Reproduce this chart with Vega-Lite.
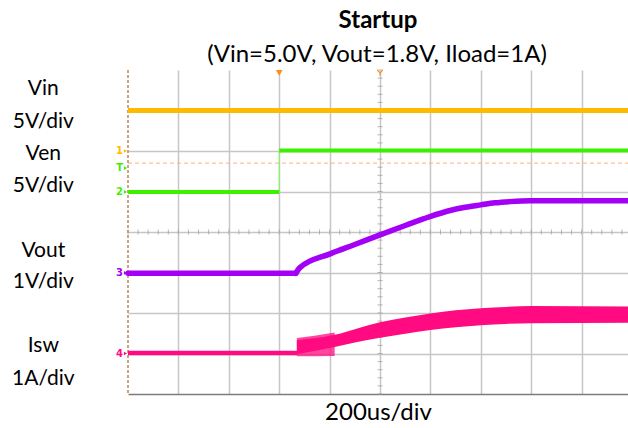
{
  "$schema": "https://vega.github.io/schema/vega-lite/v6.json",
  "width": 500,
  "height": 324,
  "autosize": {"type": "none"},
  "padding": {"left": 128, "top": 70, "right": 0, "bottom": 34},
  "background": "#ffffff",
  "config": {"view": {"stroke": null}, "font": "Lato"},
  "resolve": {"axis": {"x": "independent", "y": "independent"}},
  "datasets": {
    "trig": [{"t": 0, "v": 5.7}, {"t": 9.92, "v": 5.7}],
    "cursor": [{"t": 0}],
    "minor": [
      {"v": 0}, {"v": 0.2}, {"v": 0.4}, {"v": 0.6}, {"v": 0.8}, {"v": 1}, {"v": 1.2}, {"v": 1.4}, {"v": 1.6}, {"v": 1.8},
      {"v": 2}, {"v": 2.2}, {"v": 2.4}, {"v": 2.6}, {"v": 2.8}, {"v": 3}, {"v": 3.2}, {"v": 3.4}, {"v": 3.6}, {"v": 3.8},
      {"v": 4}, {"v": 4.2}, {"v": 4.4}, {"v": 4.6}, {"v": 4.8}, {"v": 5}, {"v": 5.2}, {"v": 5.4}, {"v": 5.6}, {"v": 5.8},
      {"v": 6}, {"v": 6.2}, {"v": 6.4}, {"v": 6.6}, {"v": 6.8}, {"v": 7}, {"v": 7.2}, {"v": 7.4}, {"v": 7.6}, {"v": 7.8},
      {"v": 8}, {"v": 8.2}, {"v": 8.4}, {"v": 8.6}, {"v": 8.8}, {"v": 9}, {"v": 9.2}, {"v": 9.4}, {"v": 9.6}, {"v": 9.8}
    ],
    "traces": [
      {"ch": "Vin", "seg": "a", "t": 0, "v": 7.0},
      {"ch": "Vin", "seg": "a", "t": 9.92, "v": 7.0},
      {"ch": "Ven", "seg": "a", "t": 0, "v": 4.99},
      {"ch": "Ven", "seg": "a", "t": 3.0, "v": 4.99},
      {"ch": "Ven", "seg": "b", "t": 3.0, "v": 6.01},
      {"ch": "Ven", "seg": "b", "t": 9.92, "v": 6.01},
      {"ch": "Vout", "seg": "a", "t": 0, "v": 2.98},
      {"ch": "Vout", "seg": "a", "t": 3.33, "v": 2.98},
      {"ch": "Vout", "seg": "b", "t": 3.33, "v": 2.98},
      {"ch": "Vout", "seg": "b", "t": 3.41, "v": 3.12},
      {"ch": "Vout", "seg": "b", "t": 4.01, "v": 3.46},
      {"ch": "Vout", "seg": "b", "t": 4.5, "v": 3.69},
      {"ch": "Vout", "seg": "b", "t": 5.0, "v": 3.93},
      {"ch": "Vout", "seg": "b", "t": 5.5, "v": 4.16},
      {"ch": "Vout", "seg": "b", "t": 5.99, "v": 4.38},
      {"ch": "Vout", "seg": "b", "t": 6.39, "v": 4.53},
      {"ch": "Vout", "seg": "b", "t": 6.69, "v": 4.61},
      {"ch": "Vout", "seg": "b", "t": 7.0, "v": 4.67},
      {"ch": "Vout", "seg": "b", "t": 7.28, "v": 4.72},
      {"ch": "Vout", "seg": "b", "t": 7.58, "v": 4.75},
      {"ch": "Vout", "seg": "b", "t": 7.98, "v": 4.77},
      {"ch": "Vout", "seg": "b", "t": 9.92, "v": 4.77},
      {"ch": "Isw", "seg": "a", "t": 0, "v": 1.01},
      {"ch": "Isw", "seg": "a", "t": 3.36, "v": 1.01}
    ],
    "edge": [{"t": 3.0, "v": 4.99, "v2": 6.01}],
    "iswNoise": [
      {"t": 3.35, "lo": 0.93, "hi": 1.38},
      {"t": 3.7, "lo": 0.93, "hi": 1.44},
      {"t": 4.1, "lo": 0.94, "hi": 1.52}
    ],
    "iswBand": [
      {"t": 3.35, "lo": 0.98, "hi": 1.33},
      {"t": 4.1, "lo": 1.16, "hi": 1.46},
      {"t": 4.5, "lo": 1.27, "hi": 1.6},
      {"t": 5.0, "lo": 1.39, "hi": 1.77},
      {"t": 5.5, "lo": 1.49, "hi": 1.89},
      {"t": 6.0, "lo": 1.58, "hi": 1.99},
      {"t": 6.5, "lo": 1.65, "hi": 2.07},
      {"t": 7.0, "lo": 1.7, "hi": 2.12},
      {"t": 7.5, "lo": 1.73, "hi": 2.15},
      {"t": 8.0, "lo": 1.75, "hi": 2.17},
      {"t": 9.92, "lo": 1.76, "hi": 2.16}
    ],
    "chmarks": [
      {"ch": "Vin", "s": "1", "v": 6.0},
      {"ch": "Ven", "s": "T", "v": 5.58},
      {"ch": "Ven", "s": "2", "v": 4.99},
      {"ch": "Vout", "s": "3", "v": 2.99},
      {"ch": "Isw", "s": "4", "v": 1.0}
    ],
    "labels": [
      {"label": "Vin", "v": 7.383},
      {"label": "5V/div", "v": 6.568},
      {"label": "Ven", "v": 5.778},
      {"label": "5V/div", "v": 4.988},
      {"label": "Vout", "v": 3.383},
      {"label": "1V/div", "v": 2.617},
      {"label": "Isw", "v": 1.037},
      {"label": "1A/div", "v": 0.222}
    ]
  },
  "layer": [
    {
      "data": {"name": "trig"},
      "mark": {"type": "line", "color": "#ffb27a", "strokeWidth": 1, "strokeDash": [4, 3]},
      "encoding": {
        "x": {
          "field": "t", "type": "quantitative",
          "scale": {"domain": [0, 9.92], "nice": false, "zero": false},
          "axis": {
            "values": [1, 2, 3, 4, 5, 6, 7, 8, 9],
            "grid": true, "gridColor": "#c6c6c6", "gridWidth": 1.5,
            "ticks": false, "labels": false,
            "domain": true, "domainColor": "#7d7d7d", "domainWidth": 1.5,
            "title": "200us/div", "titleFont": "Lato", "titleFontSize": 24,
            "titleFontWeight": "normal", "titleColor": "#000000", "titlePadding": 6
          }
        },
        "y": {
          "field": "v", "type": "quantitative",
          "scale": {"domain": [0, 8], "nice": false, "zero": false},
          "axis": {
            "values": [1, 2, 3, 4, 5, 6, 7],
            "grid": true, "gridColor": "#c6c6c6", "gridWidth": 1.5,
            "ticks": false, "labels": false, "domain": false, "title": null
          }
        }
      }
    },
    {
      "data": {"name": "cursor"},
      "mark": {"type": "rule", "color": "#b8885a", "strokeWidth": 1.5, "strokeDash": [3, 2]},
      "encoding": {"x": {"field": "t", "type": "quantitative", "axis": null}}
    },
    {
      "data": {"name": "minor"},
      "mark": {"type": "tick", "orient": "vertical", "size": 5, "thickness": 1, "color": "#9a9a9a"},
      "encoding": {
        "x": {"field": "v", "type": "quantitative", "axis": null},
        "y": {"datum": 4, "type": "quantitative", "axis": null}
      }
    },
    {
      "data": {"name": "minor"},
      "transform": [{"filter": "datum.v <= 8"}],
      "mark": {"type": "tick", "orient": "horizontal", "size": 5, "thickness": 1, "color": "#9a9a9a"},
      "encoding": {
        "x": {"datum": 5, "type": "quantitative", "axis": null},
        "y": {"field": "v", "type": "quantitative", "axis": null}
      }
    },
    {
      "data": {"name": "traces"},
      "transform": [{"filter": "datum.ch == 'Vin'"}],
      "mark": {"type": "line", "color": "#ffba00", "strokeWidth": 5},
      "encoding": {
        "x": {"field": "t", "type": "quantitative", "axis": null},
        "y": {"field": "v", "type": "quantitative", "axis": null}
      }
    },
    {
      "data": {"name": "edge"},
      "mark": {"type": "rule", "color": "#7dfa5a", "strokeWidth": 1},
      "encoding": {
        "x": {"field": "t", "type": "quantitative", "axis": null},
        "y": {"field": "v", "type": "quantitative", "axis": null},
        "y2": {"field": "v2"}
      }
    },
    {
      "data": {"name": "traces"},
      "transform": [{"filter": "datum.ch == 'Ven'"}],
      "mark": {"type": "line", "color": "#3ef000", "strokeWidth": 4},
      "encoding": {
        "x": {"field": "t", "type": "quantitative", "axis": null},
        "y": {"field": "v", "type": "quantitative", "axis": null},
        "detail": {"field": "seg"}
      }
    },
    {
      "data": {"name": "traces"},
      "transform": [{"filter": "datum.ch == 'Vout'"}],
      "mark": {"type": "line", "color": "#a300f5", "strokeWidth": 5.5, "interpolate": "monotone", "strokeCap": "round"},
      "encoding": {
        "x": {"field": "t", "type": "quantitative", "axis": null},
        "y": {"field": "v", "type": "quantitative", "axis": null},
        "detail": {"field": "seg"}
      }
    },
    {
      "data": {"name": "traces"},
      "transform": [{"filter": "datum.ch == 'Isw'"}],
      "mark": {"type": "line", "color": "#ff0a80", "strokeWidth": 4.5},
      "encoding": {
        "x": {"field": "t", "type": "quantitative", "axis": null},
        "y": {"field": "v", "type": "quantitative", "axis": null}
      }
    },
    {
      "data": {"name": "iswNoise"},
      "mark": {"type": "area", "color": "#ff0a80", "opacity": 0.75},
      "encoding": {
        "x": {"field": "t", "type": "quantitative", "axis": null},
        "y": {"field": "hi", "type": "quantitative", "axis": null},
        "y2": {"field": "lo"}
      }
    },
    {
      "data": {"name": "iswBand"},
      "mark": {"type": "area", "color": "#ff0a80", "interpolate": "monotone"},
      "encoding": {
        "x": {"field": "t", "type": "quantitative", "axis": null},
        "y": {"field": "hi", "type": "quantitative", "axis": null},
        "y2": {"field": "lo"}
      }
    },
    {
      "data": {"name": "chmarks"},
      "mark": {"type": "text", "align": "right", "baseline": "middle", "fontSize": 10, "fontWeight": "bold", "font": "DejaVu Sans"},
      "encoding": {
        "x": {"datum": -0.1, "type": "quantitative", "axis": null},
        "y": {"field": "v", "type": "quantitative", "axis": null},
        "text": {"field": "s"},
        "color": {"field": "ch", "type": "nominal", "legend": null,
          "scale": {"domain": ["Vin", "Ven", "Vout", "Isw"], "range": ["#ffba00", "#3ef000", "#a300f5", "#ff0a80"]}}
      }
    },
    {
      "data": {"name": "chmarks"},
      "mark": {"type": "point", "shape": "triangle-right", "size": 14, "filled": true, "opacity": 1},
      "encoding": {
        "x": {"datum": -0.05, "type": "quantitative", "axis": null},
        "y": {"field": "v", "type": "quantitative", "axis": null},
        "color": {"field": "ch", "type": "nominal", "legend": null}
      }
    },
    {
      "data": {"values": [{"t": 3.0, "v": 7.93}]},
      "mark": {"type": "point", "shape": "triangle-down", "size": 45, "filled": true, "color": "#ff8c1a", "opacity": 1},
      "encoding": {
        "x": {"field": "t", "type": "quantitative", "axis": null},
        "y": {"field": "v", "type": "quantitative", "axis": null}
      }
    },
    {
      "data": {"values": [{"t": 5.0, "v": 7.93}]},
      "mark": {"type": "point", "shape": "M-1,-1L0,0L1,-1M0,0L0,1", "size": 30, "filled": false, "color": "#ff8c1a", "strokeWidth": 1.2, "opacity": 1},
      "encoding": {
        "x": {"field": "t", "type": "quantitative", "axis": null},
        "y": {"field": "v", "type": "quantitative", "axis": null}
      }
    },
    {
      "data": {"name": "labels"},
      "mark": {"type": "text", "align": "center", "baseline": "alphabetic", "fontSize": 21, "font": "Lato", "color": "#000000"},
      "encoding": {
        "x": {"datum": -1.68, "type": "quantitative", "axis": null},
        "y": {"field": "v", "type": "quantitative", "axis": null},
        "text": {"field": "label"}
      }
    },
    {
      "data": {"values": [{"label": "Startup", "v": 9.037}]},
      "mark": {"type": "text", "align": "center", "baseline": "alphabetic", "fontSize": 24, "fontWeight": "bold", "font": "Lato", "color": "#000000"},
      "encoding": {
        "x": {"datum": 4.96, "type": "quantitative", "axis": null},
        "y": {"field": "v", "type": "quantitative", "axis": null},
        "text": {"field": "label"}
      }
    },
    {
      "data": {"values": [{"label": "(Vin=5.0V, Vout=1.8V, Iload=1A)", "v": 8.198}]},
      "mark": {"type": "text", "align": "center", "baseline": "alphabetic", "fontSize": 24, "font": "Lato", "color": "#000000"},
      "encoding": {
        "x": {"datum": 4.94, "type": "quantitative", "axis": null},
        "y": {"field": "v", "type": "quantitative", "axis": null},
        "text": {"field": "label"}
      }
    }
  ]
}
